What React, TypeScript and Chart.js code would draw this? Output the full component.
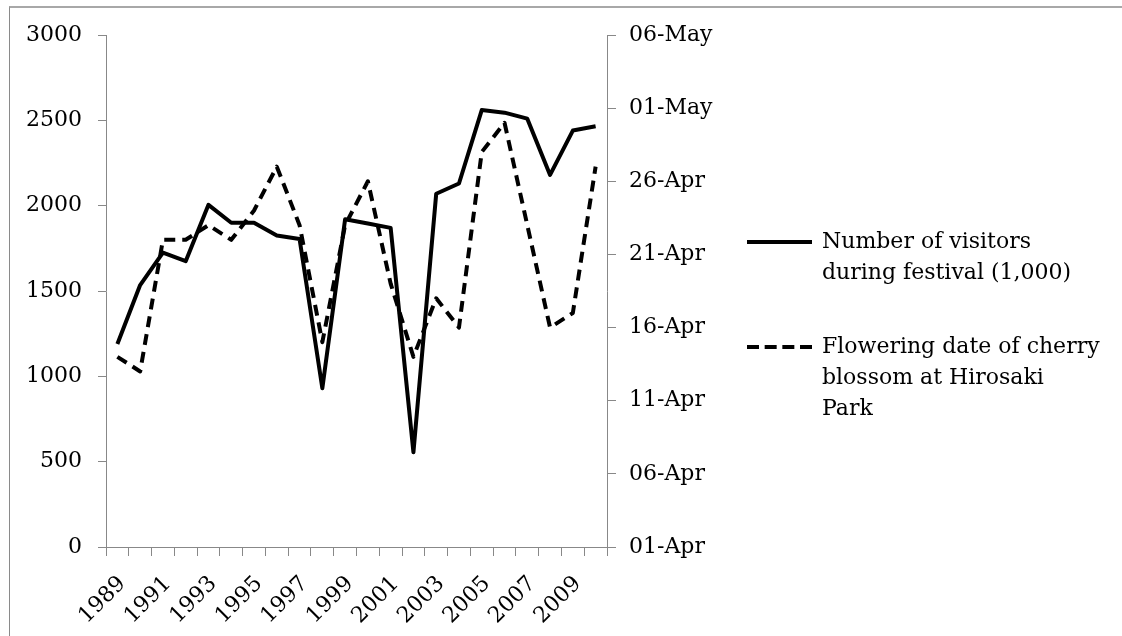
import React, { useEffect, useRef } from "react";
import { Chart, registerables } from "chart.js";

Chart.register(...registerables);

const years = [
  "1989", "1990", "1991", "1992", "1993", "1994", "1995", "1996", "1997", "1998", "1999",
  "2000", "2001", "2002", "2003", "2004", "2005", "2006", "2007", "2008", "2009", "2010",
];

const visitors = [
  1190, 1535, 1725, 1675, 2005, 1900, 1900, 1825, 1805, 930, 1920,
  1895, 1870, 555, 2070, 2130, 2560, 2545, 2510, 2180, 2440, 2465,
];

// month-day of flowering
const floweringDates = [
  "04-14", "04-13", "04-22", "04-22", "04-23", "04-22", "04-24", "04-27", "04-23", "04-15", "04-23",
  "04-26", "04-19", "04-14", "04-18", "04-16", "04-28", "04-30", "04-23", "04-16", "04-17", "04-27",
];

const leftTicks = [0, 500, 1000, 1500, 2000, 2500, 3000];
const dateTickLabels = ["01-Apr", "06-Apr", "11-Apr", "16-Apr", "21-Apr", "26-Apr", "01-May", "06-May"];

const legendVisitors = ["Number of visitors", "during festival (1,000)"];
const legendFlowering = ["Flowering date of cherry", "blossom at Hirosaki", "Park"];

const FONT_FAMILY = '"DejaVu Serif", serif';
const FONT_SIZE = 22;

function toDayIndex(md: string): number {
  const [m, d] = md.split("-").map(Number);
  return m === 4 ? d - 1 : 30 + d - 1;
}

const legendPlugin = {
  id: "customLegend",
  afterDraw(chart: any) {
    const ctx = chart.ctx as CanvasRenderingContext2D;
    const area = chart.chartArea;
    const x0 = area.right + 140;
    const x1 = x0 + 65;
    const tx = x1 + 10;
    const lineGap = 31;
    const items = [
      { lines: legendVisitors, dash: [] as number[], y: area.top + 207 },
      { lines: legendFlowering, dash: [12, 5.67], y: area.top + 312 },
    ];
    ctx.save();
    ctx.font = `${FONT_SIZE}px ${FONT_FAMILY}`;
    ctx.fillStyle = "#000";
    ctx.textBaseline = "middle";
    ctx.textAlign = "left";
    for (const it of items) {
      ctx.beginPath();
      ctx.setLineDash(it.dash);
      ctx.lineWidth = 4;
      ctx.strokeStyle = "#000";
      ctx.lineCap = "butt";
      ctx.moveTo(x0, it.y);
      ctx.lineTo(x1, it.y);
      ctx.stroke();
      ctx.setLineDash([]);
      it.lines.forEach((t, i) => ctx.fillText(t, tx, it.y + i * lineGap));
    }
    ctx.restore();
  },
};

export default function App() {
  const canvasRef = useRef<HTMLCanvasElement | null>(null);

  useEffect(() => {
    const canvas = canvasRef.current;
    if (!canvas) return;
    const font = { family: FONT_FAMILY, size: FONT_SIZE };
    const chart = new Chart(canvas, {
      type: "line",
      data: {
        labels: years,
        datasets: [
          {
            label: legendVisitors.join(" "),
            data: visitors,
            yAxisID: "y",
            borderColor: "#000",
            backgroundColor: "#000",
            borderWidth: 4,
            pointRadius: 0,
            tension: 0,
            borderJoinStyle: "round",
            fill: false,
          },
          {
            label: legendFlowering.join(" "),
            data: floweringDates.map(toDayIndex),
            yAxisID: "y2",
            borderColor: "#000",
            backgroundColor: "#000",
            borderWidth: 4,
            borderDash: [11, 7],
            pointRadius: 0,
            tension: 0,
            borderJoinStyle: "round",
            fill: false,
          },
        ],
      },
      options: {
        responsive: false,
        animation: false,
        devicePixelRatio: 1,
        layout: { padding: { top: 35, left: 0, right: 0, bottom: 0 } },
        plugins: {
          legend: { display: false },
          tooltip: { enabled: false },
        },
        scales: {
          x: {
            type: "category",
            offset: true,
            grid: {
              offset: true,
              drawOnChartArea: false,
              drawTicks: true,
              tickLength: 9,
              color: "#888",
            },
            border: { color: "#888", width: 1 },
            ticks: {
              autoSkip: false,
              maxRotation: 45,
              minRotation: 45,
              color: "#000",
              font,
              padding: 15,
              labelOffset: 5,
              callback: (_v: any, i: number) => (i % 2 === 0 ? years[i] : ""),
            },
            afterFit: (s: any) => {
              s.height = 89;
            },
          },
          y: {
            position: "left",
            min: leftTicks[0],
            max: leftTicks[leftTicks.length - 1],
            grid: { drawOnChartArea: false, tickLength: 8, color: "#888" },
            border: { color: "#888", width: 1 },
            ticks: {
              stepSize: 500,
              color: "#000",
              font,
              padding: 16,
              callback: (v: any) => String(v),
            },
            afterFit: (s: any) => {
              s.width = 106;
            },
          },
          y2: {
            position: "right",
            min: 0,
            max: 35,
            grid: { drawOnChartArea: false, tickLength: 9, color: "#888" },
            border: { color: "#888", width: 1 },
            ticks: {
              stepSize: 5,
              color: "#000",
              font,
              padding: 13,
              callback: (v: any) => dateTickLabels[Math.round(Number(v) / 5)] ?? "",
            },
            afterFit: (s: any) => {
              s.width = 515;
            },
          },
        },
      },
      plugins: [legendPlugin],
    });
    return () => chart.destroy();
  }, []);

  return (
    <div
      style={{
        position: "fixed",
        left: 0,
        top: 0,
        width: 1122,
        height: 636,
        overflow: "hidden",
        background: "#fff",
      }}
    >
      <div
        style={{
          position: "absolute",
          left: 9,
          top: 6,
          width: 1200,
          height: 700,
          borderTop: "2px solid #a8a8a8",
          borderLeft: "1px solid #8a8a8a",
        }}
      />
      <canvas
        ref={canvasRef}
        width={1122}
        height={636}
        style={{ position: "absolute", left: 0, top: 0, width: 1122, height: 636, display: "block" }}
      />
    </div>
  );
}
